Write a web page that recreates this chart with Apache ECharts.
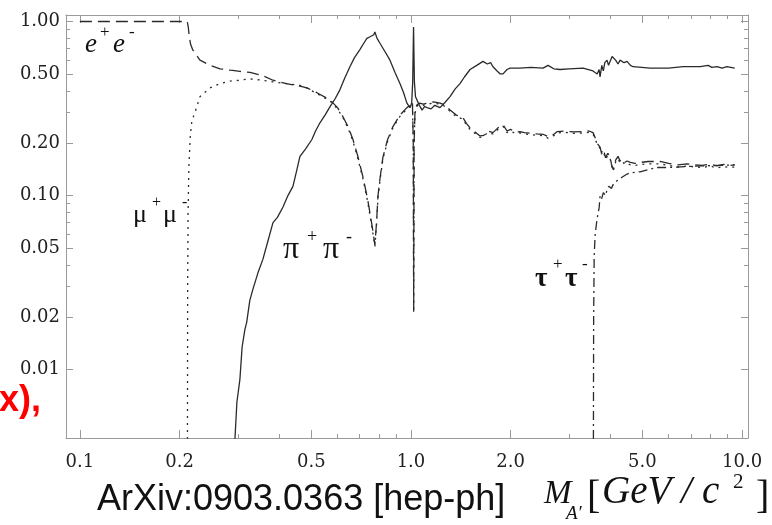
<!DOCTYPE html>
<html>
<head>
<meta charset="utf-8">
<script src="https://cdn.jsdelivr.net/npm/echarts@6/dist/echarts.min.js"></script>
<style>
  html, body { margin: 0; padding: 0; background: #fff; }
  #chart { width: 772px; height: 525px; }
</style>
</head>
<body>
<div id="chart"></div>
<script>
// axis ticks (GeV and branching ratio)
const xMajor = [0.1, 0.2, 0.5, 1, 2, 5, 10];
const xMinor = [0.3, 0.4, 0.6, 0.7, 0.8, 0.9, 3, 4, 6, 7, 8, 9];
const yMajor = [0.01, 0.02, 0.05, 0.1, 0.2, 0.5, 1];
const yMinor = [0.03, 0.04, 0.06, 0.07, 0.08, 0.09, 0.3, 0.4, 0.6, 0.7, 0.8, 0.9];

// e+e- branching ratio vs mass
const eeData = [
  [0.1, 1.0], [0.2, 1.0], [0.211, 1.0], [0.2125, 0.93], [0.214, 0.82], [0.216, 0.74],
  [0.219, 0.69], [0.2226, 0.66], [0.2305, 0.6], [0.247, 0.56], [0.265, 0.535], [0.285, 0.525],
  [0.3043, 0.517], [0.3264, 0.51], [0.355, 0.49], [0.383, 0.46], [0.42, 0.44], [0.462, 0.425],
  [0.485, 0.416], [0.52, 0.39], [0.569, 0.355], [0.6, 0.32], [0.623, 0.284], [0.645, 0.25],
  [0.668, 0.21], [0.69, 0.17], [0.716, 0.128], [0.74, 0.095], [0.765, 0.065], [0.778, 0.052],
  [0.787, 0.07], [0.795, 0.1], [0.806, 0.125], [0.823, 0.167], [0.85, 0.21], [0.882, 0.249],
  [0.926, 0.29], [0.972, 0.32], [1.0, 0.335], [1.01, 0.345], [1.016, 0.2], [1.019, 0.0215],
  [1.022, 0.2], [1.028, 0.3], [1.04, 0.33], [1.06, 0.34], [1.09, 0.335], [1.118, 0.34],
  [1.17, 0.345], [1.224, 0.34], [1.27, 0.33], [1.312, 0.31], [1.37, 0.29], [1.436, 0.28],
  [1.47, 0.26], [1.508, 0.245], [1.55, 0.235], [1.616, 0.22], [1.66, 0.222], [1.7, 0.235],
  [1.769, 0.23], [1.83, 0.245], [1.897, 0.255], [1.95, 0.235], [2.0, 0.24], [2.06, 0.232],
  [2.134, 0.233], [2.2, 0.23], [2.3, 0.228], [2.4, 0.226], [2.505, 0.225], [2.594, 0.218],
  [2.63, 0.215], [2.7, 0.225], [2.761, 0.233], [2.9, 0.235], [3.1, 0.232], [3.308, 0.233],
  [3.45, 0.235], [3.546, 0.23], [3.6, 0.215], [3.65, 0.2], [3.724, 0.19], [3.76, 0.176],
  [3.81, 0.185], [3.87, 0.165], [3.93, 0.175], [3.993, 0.168], [4.03, 0.152], [4.08, 0.141],
  [4.15, 0.16], [4.22, 0.168], [4.281, 0.158], [4.35, 0.162], [4.42, 0.155], [4.494, 0.158],
  [4.6, 0.155], [4.75, 0.153], [4.918, 0.155], [5.2, 0.157], [5.654, 0.157], [6.0, 0.153],
  [6.4, 0.15], [6.82, 0.152], [7.2, 0.15], [7.6, 0.149], [8.0, 0.152], [8.4, 0.148],
  [8.8, 0.151], [9.1, 0.149], [9.5, 0.15]
];

// mu+mu- branching ratio vs mass
const mumuData = [
  [0.2113, 0.004], [0.2116, 0.03], [0.2122, 0.08], [0.2135, 0.15], [0.2155, 0.22], [0.218, 0.27],
  [0.2226, 0.3], [0.2305, 0.37], [0.247, 0.415], [0.265, 0.44], [0.285, 0.455], [0.3043, 0.46],
  [0.3264, 0.468], [0.355, 0.46], [0.383, 0.45], [0.42, 0.44], [0.462, 0.43], [0.485, 0.415],
  [0.52, 0.385], [0.569, 0.35], [0.6, 0.315], [0.623, 0.28], [0.645, 0.245], [0.668, 0.205],
  [0.69, 0.165], [0.716, 0.125], [0.74, 0.092], [0.765, 0.063], [0.778, 0.051], [0.787, 0.068],
  [0.795, 0.098], [0.806, 0.122], [0.823, 0.163], [0.85, 0.205], [0.882, 0.245], [0.926, 0.285],
  [0.972, 0.315], [1.0, 0.33], [1.01, 0.34], [1.016, 0.197], [1.019, 0.0215], [1.022, 0.197],
  [1.028, 0.295], [1.04, 0.325], [1.06, 0.335], [1.09, 0.33], [1.118, 0.335], [1.17, 0.34],
  [1.224, 0.335], [1.27, 0.325], [1.312, 0.305], [1.37, 0.285], [1.436, 0.275], [1.47, 0.255],
  [1.508, 0.24], [1.55, 0.23], [1.616, 0.216], [1.66, 0.218], [1.7, 0.23], [1.769, 0.226],
  [1.83, 0.24], [1.897, 0.25], [1.95, 0.23], [2.0, 0.235], [2.06, 0.228], [2.134, 0.229],
  [2.2, 0.226], [2.3, 0.224], [2.4, 0.222], [2.505, 0.221], [2.594, 0.214], [2.63, 0.211],
  [2.7, 0.221], [2.761, 0.229], [2.9, 0.231], [3.1, 0.228], [3.308, 0.229], [3.45, 0.231],
  [3.546, 0.226], [3.6, 0.212], [3.65, 0.197], [3.724, 0.187], [3.76, 0.173], [3.81, 0.18],
  [3.87, 0.162], [3.93, 0.17], [3.993, 0.164], [4.03, 0.149], [4.08, 0.138], [4.15, 0.156],
  [4.22, 0.163], [4.281, 0.154], [4.35, 0.157], [4.42, 0.151], [4.494, 0.153], [4.6, 0.15],
  [4.75, 0.149], [4.918, 0.151], [5.2, 0.152], [5.654, 0.152], [6.0, 0.149], [6.4, 0.146],
  [6.82, 0.148], [7.2, 0.146], [7.6, 0.145], [8.0, 0.148], [8.4, 0.144], [8.8, 0.147],
  [9.1, 0.145], [9.5, 0.146]
];

// hadrons (labelled pi+pi-) branching ratio vs mass
const pipiData = [
  [0.294, 0.004], [0.298, 0.0065], [0.3043, 0.0088], [0.309, 0.0135], [0.315, 0.017], [0.319, 0.0187],
  [0.326, 0.025], [0.3332, 0.029], [0.345, 0.036], [0.357, 0.043], [0.37, 0.055], [0.383, 0.07],
  [0.395, 0.075], [0.4106, 0.086], [0.425, 0.1], [0.44, 0.113], [0.452, 0.14], [0.462, 0.168],
  [0.48, 0.185], [0.502, 0.21], [0.515, 0.235], [0.531, 0.262], [0.55, 0.29], [0.569, 0.323],
  [0.59, 0.36], [0.61, 0.405], [0.63, 0.47], [0.654, 0.55], [0.675, 0.62], [0.701, 0.69],
  [0.72, 0.75], [0.736, 0.8], [0.755, 0.82], [0.772, 0.84], [0.778, 0.87], [0.79, 0.8],
  [0.806, 0.75], [0.835, 0.67], [0.864, 0.6], [0.895, 0.51], [0.926, 0.44], [0.95, 0.39],
  [0.972, 0.34], [0.993, 0.32], [1.005, 0.34], [1.012, 0.45], [1.018, 0.93], [1.024, 0.45],
  [1.032, 0.37], [1.043, 0.37], [1.06, 0.33], [1.08, 0.31], [1.1, 0.325], [1.118, 0.32],
  [1.15, 0.315], [1.18, 0.33], [1.224, 0.32], [1.27, 0.345], [1.312, 0.37], [1.36, 0.41],
  [1.406, 0.44], [1.45, 0.48], [1.508, 0.53], [1.58, 0.56], [1.65, 0.59], [1.7, 0.57],
  [1.74, 0.58], [1.769, 0.55], [1.82, 0.52], [1.86, 0.5], [1.897, 0.5], [1.95, 0.53],
  [1.991, 0.54], [2.134, 0.54], [2.3, 0.545], [2.505, 0.54], [2.594, 0.56], [2.7, 0.535],
  [2.819, 0.53], [3.0, 0.535], [3.308, 0.54], [3.546, 0.52], [3.65, 0.5], [3.7, 0.53],
  [3.724, 0.48], [3.77, 0.56], [3.81, 0.52], [3.85, 0.58], [3.909, 0.6], [3.95, 0.56],
  [4.05, 0.63], [4.15, 0.6], [4.22, 0.57], [4.281, 0.6], [4.4, 0.58], [4.494, 0.59],
  [4.6, 0.56], [4.685, 0.55], [5.274, 0.54], [6.0, 0.54], [6.633, 0.55], [7.47, 0.55],
  [7.9, 0.56], [8.1, 0.545], [8.4, 0.55], [8.7, 0.54], [9.0, 0.55], [9.5, 0.54]
];

// tau+tau- branching ratio vs mass
const tautauData = [
  [3.556, 0.004], [3.562, 0.02], [3.575, 0.045], [3.6, 0.06], [3.646, 0.073], [3.7, 0.085],
  [3.724, 0.099], [3.76, 0.095], [3.81, 0.104], [3.87, 0.1], [3.909, 0.108], [3.96, 0.113],
  [4.03, 0.11], [4.1, 0.118], [4.222, 0.123], [4.35, 0.128], [4.494, 0.133], [4.588, 0.135],
  [4.75, 0.136], [4.918, 0.137], [5.2, 0.141], [5.537, 0.145], [6.0, 0.145], [6.82, 0.147],
  [7.6, 0.148], [8.4, 0.149], [9.5, 0.15]
];

const X_MIN = 0.0908, X_MAX = 10.42;
const Y_MIN = 0.00405, Y_MAX = 1.09;
const frameColor = '#9a9a9a';
const tickFont = 'DejaVu Serif';

function xAxisDef(position, ticks, len, withLabels, withLine) {
  return {
    type: 'log', logBase: 10, position: position, min: X_MIN, max: X_MAX,
    axisLine: { show: withLine, onZero: false, lineStyle: { color: frameColor, width: 1 } },
    axisTick: { show: true, inside: true, length: len, customValues: ticks,
                lineStyle: { color: frameColor, width: 1 } },
    axisLabel: withLabels
      ? { show: true, customValues: ticks, margin: 15, color: '#222', fontFamily: tickFont,
          fontSize: 18, formatter: v => Number(v).toFixed(1) }
      : { show: false },
    splitLine: { show: false }
  };
}

function yAxisDef(position, ticks, len, withLabels, withLine) {
  return {
    type: 'log', logBase: 10, position: position, min: Y_MIN, max: Y_MAX,
    axisLine: { show: withLine, onZero: false, lineStyle: { color: frameColor, width: 1 } },
    axisTick: { show: true, inside: true, length: len, customValues: ticks,
                lineStyle: { color: frameColor, width: 1 } },
    axisLabel: withLabels
      ? { show: true, customValues: ticks, margin: 6, color: '#222', fontFamily: tickFont,
          fontSize: 18, formatter: v => Number(v).toFixed(2) }
      : { show: false },
    splitLine: { show: false }
  };
}

function lineSeries(name, data, dash) {
  return {
    name: name, type: 'line', data: data, xAxisIndex: 0, yAxisIndex: 0,
    showSymbol: false, symbol: 'none', clip: true, animation: false,
    lineStyle: { color: '#2a2a2a', width: 1.3, type: dash }
  };
}

function label(text, x, y, font, align) {
  return { type: 'text', x: x, y: y, silent: true,
           style: { text: text, font: font, fill: '#111', align: align || 'left', verticalAlign: 'middle' } };
}

const serif = '"Liberation Serif", "DejaVu Serif", serif';
const chart = echarts.init(document.getElementById('chart'));
chart.setOption({
  backgroundColor: '#fff',
  animation: false,
  grid: { left: 66, top: 15, right: 24, bottom: 87 },
  xAxis: [
    xAxisDef('bottom', xMajor, 8, true, true),
    xAxisDef('bottom', xMinor, 4, false, false),
    xAxisDef('top', xMajor, 8, false, true),
    xAxisDef('top', xMinor, 4, false, false)
  ],
  yAxis: [
    yAxisDef('left', yMajor, 7, true, true),
    yAxisDef('left', yMinor, 4, false, false),
    yAxisDef('right', yMajor, 7, false, true),
    yAxisDef('right', yMinor, 4, false, false)
  ],
  series: [
    lineSeries('e+e-', eeData, [12, 6]),
    lineSeries('mu+mu-', mumuData, [2, 5]),
    lineSeries('pi+pi-', pipiData, 'solid'),
    lineSeries('tau+tau-', tautauData, [9, 4, 2, 4])
  ],
  graphic: [
    // channel labels
    label('e', 85, 45, 'italic 27px ' + serif),
    label('+', 100, 33, '17px ' + serif),
    label('e', 113, 45, 'italic 27px ' + serif),
    label('-', 129, 33, '17px ' + serif),
    label('\u03bc', 133, 215, '26px ' + serif),
    label('+', 152, 203, '16px ' + serif),
    label('\u03bc', 163, 215, '26px ' + serif),
    label('-', 182, 203, '16px ' + serif),
    label('\u03c0', 283, 250, '32px ' + serif),
    label('+', 307, 237, '18px ' + serif),
    label('\u03c0', 323, 250, '32px ' + serif),
    label('-', 346, 237, '18px ' + serif),
    label('\u03c4', 535, 279, 'bold 27px ' + serif),
    label('+', 553, 265, '17px ' + serif),
    label('\u03c4', 565, 279, 'bold 27px ' + serif),
    label('-', 582, 265, '17px ' + serif),
    // footer
    label('ArXiv:0903.0363 [hep-ph]', 97, 500, '36px "Liberation Sans", Arial, sans-serif'),
    label('M', 544, 494, 'italic 33px ' + serif),
    label('A\u2032', 566, 514, 'italic 19px ' + serif),
    label('[', 587, 497, '40px ' + serif),
    label('GeV', 602, 493, 'italic 39px ' + serif),
    label('/', 681, 493, 'italic 39px ' + serif),
    label('c', 702, 493, 'italic 39px ' + serif),
    label('2', 733, 482, '21px ' + serif),
    label(']', 756, 497, '40px ' + serif),
    // red fragment at the left edge
    { type: 'text', x: -1, y: 401, silent: true,
      style: { text: 'x),', font: 'bold 36px "Liberation Sans", Arial, sans-serif',
               fill: '#ff0000', verticalAlign: 'middle' } }
  ]
});
</script>
</body>
</html>
